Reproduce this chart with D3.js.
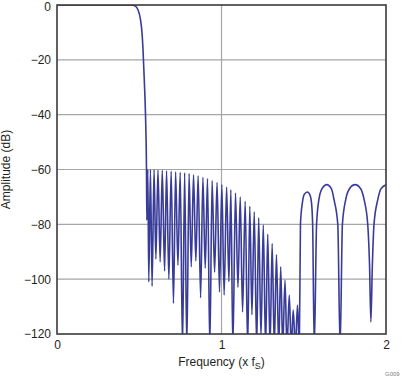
<!DOCTYPE html>
<html lang="en">
<head>
<meta charset="UTF-8">
<title>Amplitude vs Frequency</title>
<script src="https://d3js.org/d3.v7.min.js"></script>
<style>
  body { margin: 0; background: #fff; }
  svg { display: block; font-family: "Liberation Sans", Arial, sans-serif; }
  .axis text { font-size: 12px; fill: #231f20; }
  .axis-title { font-size: 12px; fill: #231f20; }
  .grid line { stroke: #a6a6a6; stroke-width: 1.2; }
</style>
</head>
<body>
<svg width="402" height="377"></svg>
<script>
// values (frequency in x fS, amplitude in dB)
const transitionFreq = [0, 0.45, 0.473, 0.493, 0.508, 0.517, 0.523, 0.531, 0.538, 0.544];
const transitionDb   = [0, 0, -0.3, -1.8, -5.5, -10.3, -16.4, -28, -40, -60];

// stopband comb: nulls and peaks (nulls below -120 are clipped)
const combNullFreq = [0.546, 0.558, 0.578, 0.601, 0.627, 0.654, 0.680, 0.708, 0.735, 0.763,
                      0.789, 0.816, 0.844, 0.873, 0.901, 0.929, 0.958, 0.988, 1.016, 1.045,
                      1.069, 1.100, 1.128, 1.159, 1.185, 1.214, 1.240, 1.268, 1.295, 1.321,
                      1.348, 1.372, 1.398, 1.424, 1.449];
const combNullDb   = [-78.5, -101, -102.6, -92.7, -93.7, -97, -100, -108.8, -94.9, -125,
                      -125, -95.5, -93.4, -106.8, -96, -125, -97.5, -104.7, -105.8, -100.9,
                      -125, -103, -112, -125, -113, -125, -121, -125, -125, -125,
                      -125, -125, -125, -125, -125];
const combPeakFreq = [0.552, 0.568, 0.590, 0.614, 0.640, 0.666, 0.694, 0.721, 0.749, 0.776,
                      0.803, 0.830, 0.858, 0.887, 0.915, 0.943, 0.973, 1.002, 1.031, 1.057,
                      1.085, 1.114, 1.144, 1.172, 1.199, 1.226, 1.254, 1.281, 1.308, 1.334,
                      1.360, 1.386, 1.412, 1.436, 1.462];
const combPeakDb   = [-60, -60, -60, -60.2, -60.3, -60.5, -60.6, -60.8, -61, -61.2,
                      -61.5, -61.9, -62.3, -62.8, -63.3, -64, -64.7, -65.5, -66.4, -67.4,
                      -68.6, -70, -71.6, -73.4, -75.4, -77.6, -80.2, -83.5, -87, -91,
                      -95.5, -100.4, -105.8, -111.3, -109.5];

// wide lobes above 1.47 fS
const lobeFreq = [1.473, 1.480, 1.492, 1.504, 1.522, 1.539, 1.547, 1.554, 1.564,
                  1.578, 1.592, 1.611, 1.640, 1.668, 1.684, 1.707, 1.721,
                  1.735, 1.755, 1.778, 1.812, 1.846, 1.867, 1.889, 1.900, 1.908,
                  1.917, 1.927, 1.950, 1.970, 2.0];
const lobeDb   = [-125, -80, -72, -69, -68.2, -69.5, -72, -80, -125,
                  -80, -71, -67, -65.5, -67, -71, -80, -125,
                  -80, -71, -67, -65.5, -67, -71, -80, -95, -115.6,
                  -95, -80, -71, -67, -65.6];

const xTicks = [0, 1, 2];
const yTicks = [0, -20, -40, -60, -80, -100, -120];
const yTickLabels = ["0", "\u221220", "\u221240", "\u221260", "\u221280", "\u2212100", "\u2212120"];

const margin = { top: 5, left: 57 };
const width = 329;
const height = 329;

const svg = d3.select("svg");
const g = svg.append("g")
    .attr("transform", `translate(${margin.left},${margin.top})`);

const x = d3.scaleLinear().domain([0, 2]).range([0, width]);
const y = d3.scaleLinear().domain([-120, 0]).range([height, 0]);

// gridlines
const grid = g.append("g").attr("class", "grid");
grid.selectAll(".h")
    .data(yTicks.filter(d => d > -120 && d < 0))
    .enter().append("line")
    .attr("x1", 0).attr("x2", width)
    .attr("y1", d => y(d)).attr("y2", d => y(d));
grid.selectAll(".v")
    .data(xTicks.filter(d => d > 0 && d < 2))
    .enter().append("line")
    .attr("y1", 0).attr("y2", height)
    .attr("x1", d => x(d)).attr("x2", d => x(d));

// build the point list
const points = [];
transitionFreq.forEach((f, i) => points.push([f, transitionDb[i]]));
combNullFreq.forEach((f, i) => points.push([f, combNullDb[i]]));
combPeakFreq.forEach((f, i) => points.push([f, combPeakDb[i]]));
lobeFreq.forEach((f, i) => points.push([f, lobeDb[i]]));
points.sort((a, b) => a[0] - b[0]);

g.append("clipPath").attr("id", "plot-clip")
    .append("rect").attr("width", width).attr("height", height);

const line = d3.line()
    .x(d => x(d[0]))
    .y(d => y(d[1]))
    .curve(d3.curveMonotoneX);

g.append("path")
    .datum(points)
    .attr("clip-path", "url(#plot-clip)")
    .attr("fill", "none")
    .attr("stroke", "#383c98")
    .attr("stroke-width", 1.6)
    .attr("stroke-linejoin", "round")
    .attr("d", line);

// frame
g.append("rect")
    .attr("width", width)
    .attr("height", height)
    .attr("fill", "none")
    .attr("stroke", "#3a3a3a")
    .attr("stroke-width", 1.6);

// axes (labels only)
const yAxis = g.append("g")
    .attr("class", "axis")
    .call(d3.axisLeft(y).tickValues(yTicks).tickSize(0).tickPadding(6)
        .tickFormat((d, i) => yTickLabels[i]));
yAxis.select(".domain").remove();
// top label sits right at the edge; nudge it down a hair
yAxis.selectAll(".tick text").filter(d => d === 0).attr("dy", "0.45em");

const xAxis = g.append("g")
    .attr("class", "axis")
    .attr("transform", `translate(0,${height})`)
    .call(d3.axisBottom(x).tickValues(xTicks).tickSize(0).tickPadding(6)
        .tickFormat(d3.format("d")));
xAxis.select(".domain").remove();
g.selectAll(".axis text").attr("font-family", null).attr("font-size", null);

// titles
const xTitle = svg.append("text")
    .attr("class", "axis-title")
    .attr("x", margin.left + width / 2)
    .attr("y", 366)
    .attr("text-anchor", "middle");
xTitle.append("tspan").text("Frequency (x f");
xTitle.append("tspan").attr("font-size", "9px").attr("dy", 2.5).text("S");
xTitle.append("tspan").attr("dy", -2.5).text(")");

svg.append("text")
    .attr("class", "axis-title")
    .attr("transform", `translate(9.5,${margin.top + height / 2}) rotate(-90)`)
    .attr("text-anchor", "middle")
    .text("Amplitude (dB)");

svg.append("text")
    .attr("x", 385)
    .attr("y", 376)
    .attr("font-size", "6px")
    .attr("fill", "#808080")
    .text("G009");
</script>
</body>
</html>
